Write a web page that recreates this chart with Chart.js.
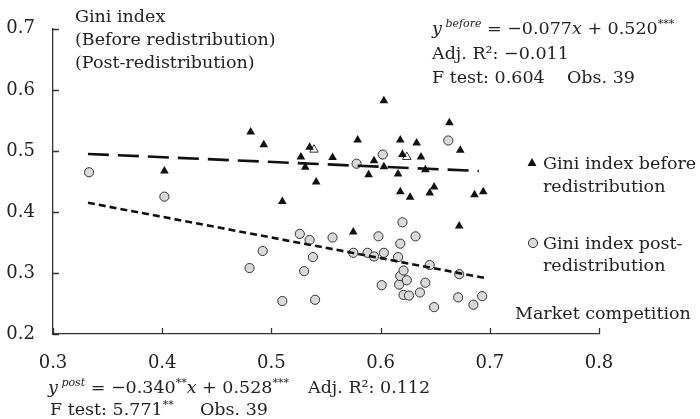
<!DOCTYPE html>
<html>
<head>
<meta charset="utf-8">
<script src="https://cdn.jsdelivr.net/npm/chart.js@4.4.1/dist/chart.umd.min.js"></script>
<style>
  html, body { margin: 0; padding: 0; background: #fff; }
  #wrap { width: 700px; height: 419px; }
</style>
</head>
<body>
<div id="wrap"><canvas id="myChart"></canvas></div>
<script>
// Gini index before redistribution (triangles)
const beforeX = [0.402, 0.481, 0.493, 0.510, 0.527, 0.531, 0.535, 0.541, 0.556, 0.575, 0.579, 0.589,
                 0.594, 0.603, 0.603, 0.616, 0.618, 0.618, 0.620, 0.627, 0.633, 0.637, 0.641, 0.645,
                 0.649, 0.663, 0.672, 0.673, 0.686, 0.694]
const beforeY = [0.467, 0.531, 0.510, 0.417, 0.490, 0.473, 0.506, 0.449, 0.489, 0.367, 0.518, 0.461,
                 0.484, 0.582, 0.474, 0.462, 0.518, 0.433, 0.494, 0.424, 0.513, 0.490, 0.469, 0.431,
                 0.441, 0.546, 0.377, 0.501, 0.428, 0.433]
// the two half-hidden triangles
const beforeHollowX = [0.539, 0.624]
const beforeHollowY = [0.502, 0.490]

// Gini index post-redistribution (circles)
const postX = [0.333, 0.402, 0.480, 0.492, 0.510, 0.526, 0.530, 0.535, 0.538, 0.540, 0.556, 0.575,
               0.578, 0.588, 0.594, 0.598, 0.601, 0.602, 0.603, 0.616, 0.617, 0.618, 0.618, 0.620,
               0.621, 0.621, 0.624, 0.626, 0.632, 0.636, 0.641, 0.645, 0.649, 0.662, 0.671, 0.672,
               0.685, 0.693]
const postY = [0.465, 0.425, 0.308, 0.336, 0.254, 0.364, 0.303, 0.354, 0.326, 0.256, 0.358, 0.333,
               0.479, 0.333, 0.327, 0.360, 0.280, 0.494, 0.333, 0.326, 0.281, 0.348, 0.295, 0.383,
               0.304, 0.264, 0.288, 0.263, 0.360, 0.268, 0.284, 0.313, 0.244, 0.517, 0.260, 0.298,
               0.248, 0.262]

// fitted lines, end points
const fitBeforeX = [0.332, 0.690]
const fitBeforeY = [0.495, 0.467]
const fitPostX = [0.332, 0.695]
const fitPostY = [0.415, 0.292]

const xTicks = [0.3, 0.4, 0.5, 0.6, 0.7, 0.8]
const yTicks = [0.2, 0.3, 0.4, 0.5, 0.6, 0.7]

const FONT = '"DejaVu Serif", serif'
const INK = '#222'

function toPoints(xs, ys) {
    return xs.map((x, i) => ({ x: x, y: ys[i] }))
}

// draw text made of parts: {t, it (italic), sup (superscript)}
function drawRich(ctx, x, y, parts, size) {
    parts.forEach(p => {
        const fs = p.sup ? Math.round(size * 0.6) : size
        ctx.font = (p.it ? 'italic ' : '') + fs + 'px ' + FONT
        const dy = p.sup ? -size * 0.42 : 0
        ctx.fillText(p.t, x, y + dy)
        x += ctx.measureText(p.t).width
    })
}

const textPlugin = {
    id: 'textPlugin',
    afterDraw(chart) {
        const ctx = chart.ctx
        const xs = chart.scales.x
        const ys = chart.scales.y
        const area = chart.chartArea
        ctx.save()

        // inward tick marks
        ctx.strokeStyle = '#333'
        ctx.lineWidth = 1.3
        ctx.beginPath()
        xTicks.forEach(v => {
            const px = Math.round(xs.getPixelForValue(v)) + 0.5
            ctx.moveTo(px, area.bottom)
            ctx.lineTo(px, area.bottom - 6)
        })
        yTicks.forEach(v => {
            const py = Math.round(ys.getPixelForValue(v)) + 0.5
            ctx.moveTo(area.left, py)
            ctx.lineTo(area.left + 6, py)
        })
        ctx.stroke()

        ctx.fillStyle = INK
        ctx.textAlign = 'left'
        ctx.textBaseline = 'alphabetic'
        const fs = 17.5

        // y axis title
        drawRich(ctx, 75, 22, [{ t: 'Gini index' }], fs)
        drawRich(ctx, 75, 45, [{ t: '(Before redistribution)' }], fs)
        drawRich(ctx, 75, 68, [{ t: '(Post-redistribution)' }], fs)

        // regression, before
        drawRich(ctx, 432, 34, [
            { t: 'y', it: true }, { t: ' before', it: true, sup: true },
            { t: ' = \u22120.077' }, { t: 'x', it: true }, { t: ' + 0.520' }, { t: '***', sup: true }
        ], fs)
        drawRich(ctx, 432, 59, [{ t: 'Adj. R\u00b2: \u22120.011' }], fs)
        drawRich(ctx, 432, 83, [{ t: 'F test: 0.604' }], fs)
        drawRich(ctx, 567, 83, [{ t: 'Obs. 39' }], fs)

        // legend
        ctx.fillStyle = '#111'
        ctx.beginPath()
        ctx.moveTo(532, 158)
        ctx.lineTo(536.5, 166)
        ctx.lineTo(527.5, 166)
        ctx.closePath()
        ctx.fill()
        ctx.fillStyle = INK
        drawRich(ctx, 543, 169, [{ t: 'Gini index before' }], fs)
        drawRich(ctx, 543, 192, [{ t: 'redistribution' }], fs)

        ctx.beginPath()
        ctx.arc(533, 243, 4.6, 0, Math.PI * 2)
        ctx.fillStyle = '#d9d9d9'
        ctx.fill()
        ctx.lineWidth = 1
        ctx.strokeStyle = '#333'
        ctx.stroke()
        ctx.fillStyle = INK
        drawRich(ctx, 543, 249, [{ t: 'Gini index post-' }], fs)
        drawRich(ctx, 543, 271, [{ t: 'redistribution' }], fs)

        // x axis title
        drawRich(ctx, 515, 319, [{ t: 'Market competition' }], fs)

        // regression, post
        drawRich(ctx, 48, 393, [
            { t: 'y', it: true }, { t: ' post', it: true, sup: true },
            { t: ' = \u22120.340' }, { t: '**', sup: true }, { t: 'x', it: true },
            { t: ' + 0.528' }, { t: '***', sup: true }
        ], fs)
        drawRich(ctx, 308, 393, [{ t: 'Adj. R\u00b2: 0.112' }], fs)
        drawRich(ctx, 50, 415, [{ t: 'F test: 5.771' }, { t: '**', sup: true }], fs)
        drawRich(ctx, 200, 415, [{ t: 'Obs. 39' }], fs)

        ctx.restore()
    }
}

const ctx1 = document.getElementById('myChart')

new Chart(ctx1, {
    type: 'scatter',
    data: {
        datasets: [{
            label: 'Gini index before redistribution',
            data: toPoints(beforeX, beforeY),
            pointStyle: 'triangle',
            pointRadius: 5,
            backgroundColor: '#111',
            borderColor: '#111',
            borderWidth: 0,
            order: 3
        }, {
            label: 'hidden triangles',
            data: toPoints(beforeHollowX, beforeHollowY),
            pointStyle: 'triangle',
            pointRadius: 5,
            backgroundColor: '#fff',
            borderColor: '#333',
            borderWidth: 1,
            order: 3
        }, {
            label: 'Gini index post-redistribution',
            data: toPoints(postX, postY),
            pointStyle: 'circle',
            pointRadius: 4.6,
            backgroundColor: '#d9d9d9',
            borderColor: '#333',
            borderWidth: 1,
            order: 2
        }, {
            type: 'line',
            label: 'fit before',
            data: toPoints(fitBeforeX, fitBeforeY),
            borderColor: '#111',
            borderWidth: 2.6,
            borderDash: [21, 9],
            pointRadius: 0,
            fill: false,
            order: 1
        }, {
            type: 'line',
            label: 'fit post',
            data: toPoints(fitPostX, fitPostY),
            borderColor: '#111',
            borderWidth: 2.6,
            borderDash: [7, 4],
            pointRadius: 0,
            fill: false,
            order: 1
        }]
    },
    options: {
        responsive: true,
        maintainAspectRatio: false,
        animation: false,
        layout: {
            padding: { left: 0, right: 101, top: 17, bottom: 45 }
        },
        plugins: {
            legend: { display: false },
            tooltip: { enabled: false }
        },
        scales: {
            x: {
                type: 'linear',
                min: 0.3,
                max: 0.8,
                afterBuildTicks: (scale) => { scale.ticks = xTicks.map(v => ({ value: v })) },
                afterFit: (scale) => { scale.height = 40 },
                grid: { display: false, drawTicks: false },
                border: { display: true, color: '#333', width: 1.3 },
                ticks: {
                    padding: 19,
                    color: INK,
                    font: { family: FONT, size: 18 },
                    callback: (v) => v.toFixed(1)
                }
            },
            y: {
                type: 'linear',
                min: 0.2,
                max: 0.7,
                afterBuildTicks: (scale) => { scale.ticks = yTicks.map(v => ({ value: v })) },
                afterFit: (scale) => { scale.width = 53 },
                grid: { display: false, drawTicks: false },
                border: { display: true, color: '#333', width: 1.3 },
                ticks: {
                    padding: 18,
                    color: INK,
                    font: { family: FONT, size: 18 },
                    callback: (v) => v.toFixed(1)
                }
            }
        }
    },
    plugins: [textPlugin]
});
</script>
</body>
</html>
